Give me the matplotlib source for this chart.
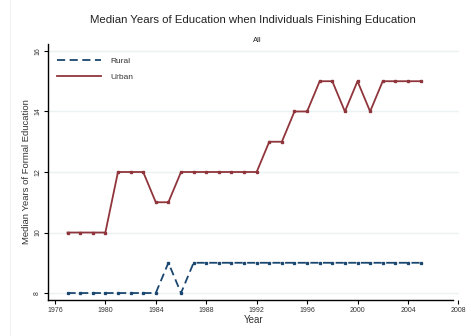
import matplotlib
matplotlib.use("Agg")
import matplotlib.pyplot as plt
from matplotlib.lines import Line2D

plt.rcParams['font.family'] = ['Liberation Sans', 'DejaVu Sans']

years = list(range(1977, 2006))
rural = [8, 8, 8, 8, 8, 8, 8, 8, 9, 8,
         9, 9, 9, 9, 9, 9, 9, 9, 9, 9,
         9, 9, 9, 9, 9, 9, 9, 9, 9]
urban = [10, 10, 10, 10, 12, 12, 12, 11, 11, 12,
         12, 12, 12, 12, 12, 12, 13, 13, 14, 14,
         15, 15, 14, 15, 14, 15, 15, 15, 15]
xticks = [1976, 1980, 1984, 1988, 1992, 1996, 2000, 2004, 2008]
yticks = [8, 10, 12, 14, 16]

navy = "#1a476f"
maroon = "#90353b"

fig = plt.figure(figsize=(4.71, 3.36), dpi=100)
ax = fig.add_axes([48/471, 1 - 300/336, (459 - 48)/471, (300 - 44)/336])

# faint frame edge on the left of the graph region
fig.add_artist(Line2D([10/471, 10/471], [0, 1], color='#f2f2f2', lw=0.8))

ax.plot(years, rural, color=navy, lw=1.3, ls=(0, (4.5, 2.5)),
        marker='s', ms=1.4, label="Rural")
ax.plot(years, urban, color=maroon, lw=1.3,
        marker='s', ms=1.6, label="Urban")

ax.set_xlim(1975.45, 2008.05)
ax.set_ylim(7.77, 16.23)
ax.spines['bottom'].set_bounds(1975.45, 2007.6)
ax.spines['top'].set_visible(False)
ax.spines['right'].set_visible(False)
for s in ('left', 'bottom'):
    ax.spines[s].set_linewidth(1.0)

ax.set_xticks(xticks)
ax.set_yticks(yticks)
ax.tick_params(labelsize=5, length=3, width=0.8, pad=2, labelcolor='#333333')
for lbl in ax.get_yticklabels():
    lbl.set_rotation(90)
    lbl.set_va('center')
ax.grid(axis='y', color='#eaf2f3', lw=1.0)
ax.set_axisbelow(True)

ax.set_xlabel("Year", fontsize=7, labelpad=1, color='#333333')
ax.set_ylabel("Median Years of Formal Education", fontsize=6.8, color='#333333')
ax.yaxis.set_label_coords(-0.041, 0.5)

fig.text(253 / 471, 1 - 20 / 336,
         "Median Years of Education when Individuals Finishing Education",
         ha='center', va='center', fontsize=8.2, color='#222222')
fig.text(257 / 471, 1 - 41 / 336, "All", ha='center', va='center',
         fontsize=5.5, color='#222222')

leg = ax.legend(loc='upper left', bbox_to_anchor=(0.022, 0.95), frameon=False,
                fontsize=6, handlelength=5.3, handletextpad=1.1,
                labelspacing=1.0, borderaxespad=0, borderpad=0)
for h in leg.legend_handles:
    h.set_marker('')
for t in leg.get_texts():
    t.set_color('#333333')

fig.savefig("out.png", dpi=100)
